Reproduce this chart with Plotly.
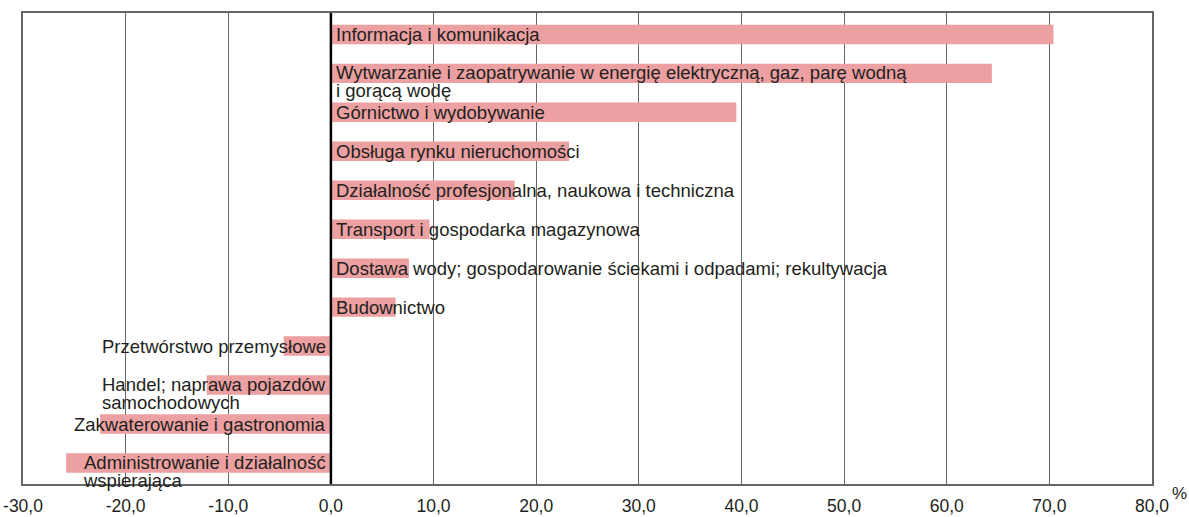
import plotly.graph_objects as go

# Sekcje PKD i zmiana w %
sekcje = [
    "Informacja i komunikacja",
    "Wytwarzanie i zaopatrywanie w energię elektryczną, gaz, parę wodną<br>i gorącą wodę",
    "Górnictwo i wydobywanie",
    "Obsługa rynku nieruchomości",
    "Działalność profesjonalna, naukowa i techniczna",
    "Transport i gospodarka magazynowa",
    "Dostawa wody; gospodarowanie ściekami i odpadami; rekultywacja",
    "Budownictwo",
    "Przetwórstwo przemysłowe",
    "Handel; naprawa pojazdów<br>samochodowych",
    "Zakwaterowanie i gastronomia",
    "Administrowanie i działalność<br>wspierająca",
]
zmiana = [70.4, 64.4, 39.5, 23.2, 17.9, 9.6, 7.6, 6.3, -4.6, -12.1, -22.5, -25.8]

tick_vals = [-30, -20, -10, 0, 10, 20, 30, 40, 50, 60, 70, 80]
tick_text = ["-30,0", "-20,0", "-10,0", "0,0", "10,0", "20,0", "30,0", "40,0", "50,0", "60,0", "70,0", "80,0"]

FONT = "Liberation Sans, Arial"
SIZE = 18.5
ink = "#231f20"
idx = list(range(len(sekcje)))

fig = go.Figure(go.Bar(
    x=zmiana, y=idx, orientation="h",
    marker=dict(color="#eca0a2", line=dict(width=0)),
    width=0.5, hoverinfo="skip",
))

hide = '<span style="color:rgba(0,0,0,0)">{}</span>'

# podpisy przy osi zero; przy dwóch liniach druga linia ciaśniej (osobna adnotacja)
for i, (s, v) in enumerate(zip(sekcje, zmiana)):
    common = dict(x=0, y=i, showarrow=False, align="left",
                  xanchor="left" if v >= 0 else "right",
                  xshift=3 if v >= 0 else -3,
                  font=dict(size=SIZE, color=ink, family=FONT))
    if "<br>" in s:
        l1, l2 = s.split("<br>")
        fig.add_annotation(text=l1 + "<br>" + hide.format(l2), yanchor="top", yshift=13, **common)
        fig.add_annotation(text=hide.format(l1) + "<br>" + l2, yanchor="top", yshift=19, **common)
    else:
        fig.add_annotation(text=s, yanchor="middle", **common)

fig.add_annotation(x=1, xref="paper", y=0, yref="paper", text="%", showarrow=False,
                   xanchor="left", yanchor="top", xshift=18, yshift=2,
                   font=dict(size=17, color=ink, family=FONT))

fig.add_shape(type="line", x0=0, x1=0, y0=0, y1=1, yref="paper",
              line=dict(color="#000000", width=2.5))

fig.update_xaxes(range=[-30, 80], tickvals=tick_vals, ticktext=tick_text, automargin=False,
                 showgrid=True, gridcolor="#666666", gridwidth=1,
                 zeroline=False, showline=True, linecolor="#666666", linewidth=1.5, mirror=True,
                 ticks="", ticklabelstandoff=5,
                 tickfont=dict(size=17.5, color=ink, family=FONT))
fig.update_yaxes(range=[11.54, -0.55], showticklabels=False, showgrid=False, zeroline=False,
                 automargin=False,
                 showline=True, linecolor="#666666", linewidth=1.5, mirror=True)

fig.update_layout(
    width=1189, height=517,
    margin=dict(l=23, r=37, t=13, b=33),
    plot_bgcolor="white", paper_bgcolor="white",
    showlegend=False,
)

# bez domyślnego marginesu strony i bez paska narzędzi
fig.write_html("out.html", config={"displayModeBar": False},
               post_script="document.body.style.margin='0';")
